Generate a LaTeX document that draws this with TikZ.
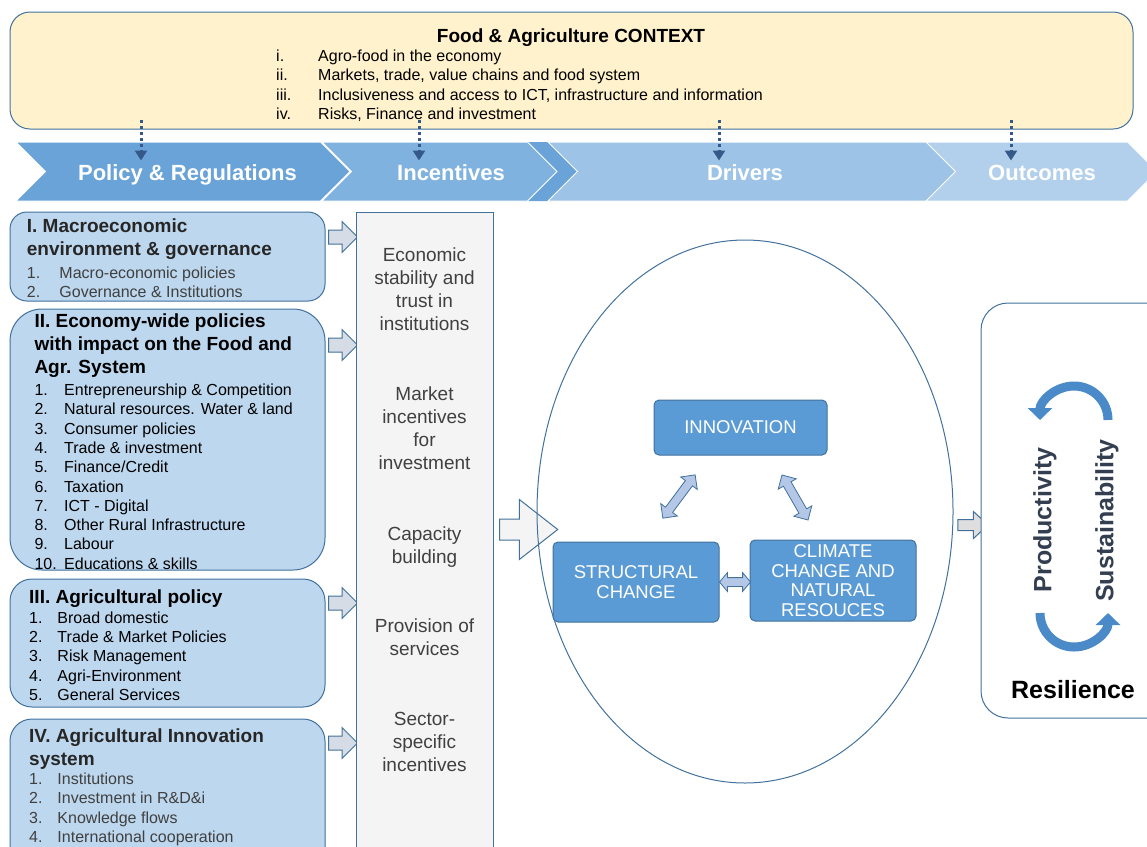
\documentclass[tikz,border=0pt]{standalone}
\usepackage{fontspec}
\setmainfont{Liberation Sans}
\usetikzlibrary{shapes.geometric,shapes.symbols,shapes.arrows,arrows.meta}

\definecolor{bordblue}{HTML}{41719C}
\definecolor{ctxyellow}{HTML}{FFF2CC}
\definecolor{boxblue}{HTML}{BDD7EE}
\definecolor{colgray}{HTML}{F4F4F4}
\definecolor{arrgray}{HTML}{D6DCE5}
\definecolor{outgray}{HTML}{DEDEDE}
\definecolor{chevA}{HTML}{6AA3D8}
\definecolor{chevB}{HTML}{80B2DF}
\definecolor{chevC}{HTML}{9DC3E6}
\definecolor{chevD}{HTML}{B2D0EC}
\definecolor{drvblue}{HTML}{5B9BD5}
\definecolor{lightarr}{HTML}{B4C7E7}
\definecolor{dotblue}{HTML}{355A8A}
\definecolor{cycblue}{HTML}{4A8AC9}
\definecolor{outtextc}{HTML}{333F50}
\definecolor{titledark}{HTML}{262626}
\definecolor{listgray}{HTML}{404040}

\tikzset{
  ctxbox/.style={draw=bordblue, fill=ctxyellow, line width=1pt, rounded corners=20pt},
  chev/.style={signal, signal from=west, signal to=east, signal pointer angle=90,
    draw=white, line width=1pt, minimum height=59pt, inner sep=0pt},
  chevtext/.style={anchor=base, text=white, font=\bfseries\fontsize{22}{26}\selectfont},
  dotarr/.style={draw=dotblue, line width=3pt, dash pattern=on 3pt off 3pt,
    shorten >=11pt, -{Triangle[length=10pt,width=12pt]}},
  polbox/.style={draw=bordblue, fill=boxblue, line width=1pt, minimum width=315pt, inner sep=0pt},
  boxtitle/.style={anchor=base west, inner sep=0pt, font=\bfseries\fontsize{19}{23.3}\selectfont},
  boxlist/.style={anchor=base west, inner sep=0pt, font=\fontsize{16}{19.3}\selectfont},
  garrow/.style={single arrow, draw=bordblue, fill=arrgray, line width=1pt, inner sep=0pt,
    inner ysep=6.5pt, single arrow head extend=8.5pt, single arrow tip angle=90, minimum height=29pt},
  inctext/.style={anchor=base, inner sep=0pt, text=listgray, font=\fontsize{19}{23.2}\selectfont},
  drvbox/.style={draw=bordblue, fill=drvblue, line width=1pt, rounded corners=5pt, inner sep=2pt,
    text=white, align=center, font=\fontsize{18.5}{19.6}\selectfont},
  darrow/.style={double arrow, draw=bordblue, fill=lightarr, line width=0.8pt, inner sep=0pt,
    inner ysep=4pt, double arrow head extend=6pt, double arrow tip angle=90},
  cycarr/.style={draw=cycblue, line width=9pt, -{Triangle[length=12pt,width=24pt]}},
  outtext/.style={font=\bfseries\fontsize{25}{30}\selectfont, text=outtextc},
}

\begin{document}
\begin{tikzpicture}[x=1pt, y=-1pt]
  \useasboundingbox (0,0) rectangle (1147,846);
  \clip (0,0) rectangle (1147,846);

  % context
  \node[ctxbox, minimum width=1123pt, minimum height=117pt] (ctx) at (571.5,70.5) {};
  \node[anchor=base, inner sep=0pt, font=\bfseries\fontsize{19}{23}\selectfont] (ctxT) at (571,42) {Food \& Agriculture CONTEXT};
  \node[boxlist] (ctxL) at (276,61.5) {\begin{tabular}[t]{@{}p{42pt}@{}l@{}}
    i. & Agro-food in the economy\\
    ii. & Markets, trade, value chains and food system\\
    iii. & Inclusiveness and access to ICT, infrastructure and information\\
    iv. & Risks, Finance and investment\end{tabular}};

  % chevrons
  \node[chev, fill=chevA, minimum width=334pt] (pol) at (183,171.5) {};
  \node[chev, fill=chevA, draw=none, minimum width=50pt] (slv) at (552,171.5) {};
  \node[chev, fill=chevB, minimum width=235pt] (inc) at (439.5,171.5) {};
  \node[chev, fill=chevC, minimum width=409pt] (drv) at (752.5,171.5) {};
  \node[chev, fill=chevD, minimum width=231pt] (out) at (1041.5,171.5) {};
  \node[chevtext] (polT) at (187.5,180) {Policy \& Regulations};
  \node[chevtext] (incT) at (451,180) {Incentives};
  \node[chevtext] (drvT) at (745,180) {Drivers};
  \node[chevtext] (outT) at (1042,180) {Outcomes};

  \coordinate (c1) at (141,120);
  \coordinate (c2) at (419,120);
  \coordinate (c3) at (719,120);
  \coordinate (c4) at (1011,120);
  \draw[dotarr] (c1) -- (c1 |- pol.center);
  \draw[dotarr] (c2) -- (c2 |- inc.center);
  \draw[dotarr] (c3) -- (c3 |- drv.center);
  \draw[dotarr] (c4) -- (c4 |- out.center);

  % policy boxes
  \node[polbox, rounded corners=17pt, minimum height=89pt] (mac) at (167.5,256.5) {};
  \node[boxtitle, text=titledark] (macT) at (26.7,232) {\begin{tabular}[t]{@{}l@{}}
    I. Macroeconomic\\environment \& governance\end{tabular}};
  \node[boxlist, text=listgray] (macL) at (26.7,278) {\begin{tabular}[t]{@{}p{32.6pt}@{}l@{}}
    1. & Macro-economic policies\\
    2. & Governance \& Institutions\end{tabular}};

  \node[polbox, rounded corners=32pt, minimum height=261pt] (eco) at (167.5,439.5) {};
  \node[boxtitle] (ecoT) at (34.3,327) {\begin{tabular}[t]{@{}l@{}}
    II. Economy-wide policies\\with impact on the Food and\\Agr. System\end{tabular}};
  \node[boxlist] (ecoL) at (34.3,395.5) {\begin{tabular}[t]{@{}p{29.7pt}@{}l@{}}
    1. & Entrepreneurship \& Competition\\
    2. & Natural resources. Water \& land\\
    3. & Consumer policies\\
    4. & Trade \& investment\\
    5. & Finance/Credit\\
    6. & Taxation\\
    7. & ICT - Digital\\
    8. & Other Rural Infrastructure\\
    9. & Labour\\
    10. & Educations \& skills\end{tabular}};

  \node[polbox, rounded corners=22pt, minimum height=128pt] (agr) at (167.5,643) {};
  \node[boxtitle] (agrT) at (29,603.7) {III. Agricultural policy};
  \node[boxlist] (agrL) at (29,623.2) {\begin{tabular}[t]{@{}p{28.3pt}@{}l@{}}
    1. & Broad domestic\\
    2. & Trade \& Market Policies\\
    3. & Risk Management\\
    4. & Agri-Environment\\
    5. & General Services\end{tabular}};

  \node[polbox, rounded corners=22pt, minimum height=151pt] (ais) at (167.5,794.5) {};
  \node[boxtitle, text=titledark] (aisT) at (29,742) {\begin{tabular}[t]{@{}l@{}}
    IV. Agricultural Innovation\\system\end{tabular}};
  \node[boxlist, text=listgray] (aisL) at (29,784.5) {\begin{tabular}[t]{@{}p{28.3pt}@{}l@{}}
    1. & Institutions\\
    2. & Investment in R\&D\&i\\
    3. & Knowledge flows\\
    4. & International cooperation\end{tabular}};

  \node[garrow] (macA) at (339.5,237) {};
  \node[garrow] (ecoA) at (339.5,345) {};
  \node[garrow] (agrA) at (339.5,603) {};
  \node[garrow] (aisA) at (339.5,743) {};

  % incentives
  \node[draw=bordblue, fill=colgray, line width=1pt, minimum width=137pt, minimum height=658pt, inner sep=0pt] (col) at (424.5,541) {};
  \node[inctext] (inc1) at (424.5,261) {\begin{tabular}[t]{@{}c@{}}Economic\\stability and\\trust in\\institutions\end{tabular}};
  \node[inctext] (inc2) at (424.5,400) {\begin{tabular}[t]{@{}c@{}}Market\\incentives\\for\\investment\end{tabular}};
  \node[inctext] (inc3) at (424.5,540) {\begin{tabular}[t]{@{}c@{}}Capacity\\building\end{tabular}};
  \node[inctext] (inc4) at (424.5,632) {\begin{tabular}[t]{@{}c@{}}Provision of\\services\end{tabular}};
  \node[inctext] (inc5) at (424.5,725) {\begin{tabular}[t]{@{}c@{}}Sector-\\specific\\incentives\end{tabular}};

  \node[single arrow, draw=bordblue, fill=colgray, line width=1pt, inner sep=0pt, inner ysep=10pt,
    single arrow head extend=19.5pt, single arrow tip angle=76, minimum height=58pt] (bigA) at (522,529.5) {};

  % drivers
  \node[ellipse, draw=bordblue, line width=1pt, minimum width=416pt, minimum height=543pt, inner sep=0pt] (ell) at (745,511.5) {};
  \node[drvbox, minimum width=173pt, minimum height=55pt] (innov) at (740.5,427.5) {INNOVATION};
  \node[drvbox, minimum width=166pt, minimum height=80pt] (struc) at (636,582) {STRUCTURAL\\CHANGE};
  \node[drvbox, minimum width=166pt, minimum height=81pt] (clim) at (833,580.5) {CLIMATE\\CHANGE AND\\NATURAL\\RESOUCES};
  \node[darrow, minimum height=54pt, rotate=53.3] (isA) at (679,496.5) {};
  \node[darrow, minimum height=52pt, rotate=-60] (icA) at (795,497.5) {};
  \node[darrow, minimum height=31pt, double arrow head extend=5pt, double arrow tip angle=100] (scA) at (735,582) {};

  % outcomes
  \node[single arrow, draw=bordblue, fill=outgray, line width=1pt, inner sep=0pt, inner ysep=5pt,
    single arrow head extend=8pt, single arrow tip angle=86, minimum height=30pt] (outA) at (970,525) {};
  \node[draw=bordblue, fill=white, line width=1pt, rounded corners=27pt, minimum width=199pt, minimum height=415pt] (res) at (1080.5,510.5) {};
  \node[outtext, rotate=90] (prod) at (1045,520) {Productivity};
  \node[outtext, rotate=90] (sust) at (1107,520.5) {Sustainability};
  \node[font=\bfseries\fontsize{25}{30}\selectfont] (resT) at (1073,690) {Resilience};
  \coordinate (cy1) at (1108,420);
  \coordinate (cy2) at (1040,613);
  \draw[cycarr] (cy1) arc[start angle=0, end angle=-180, radius=34];
  \draw[cycarr] (cy2) arc[start angle=180, end angle=0, radius=34];

\end{tikzpicture}
\end{document}
